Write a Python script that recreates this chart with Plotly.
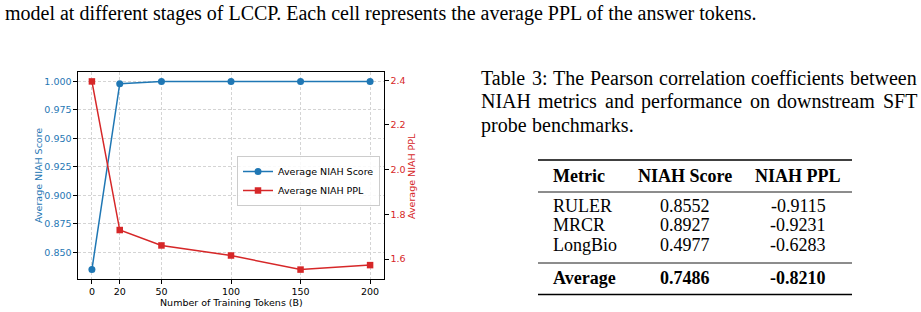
import plotly.graph_objects as go

W, H = 921, 312

# ---------------- data ----------------
tokens = [0, 20, 50, 100, 150, 200]
niah_score = [0.835, 0.998, 1.000, 1.000, 1.000, 1.000]
niah_ppl = [2.395, 1.730, 1.661, 1.616, 1.553, 1.573]

score_ticks = [0.850, 0.875, 0.900, 0.925, 0.950, 0.975, 1.000]
ppl_ticks = [1.6, 1.8, 2.0, 2.2, 2.4]

top_text = ("model at different stages of LCCP. Each cell represents the "
            "average PPL of the answer tokens.")
caption_lines = [
    "Table 3: The Pearson correlation coefficients between",
    "NIAH metrics and performance on downstream SFT",
    "probe benchmarks.",
]

table_header = ["Metric", "NIAH Score", "NIAH PPL"]
table_metrics = ["RULER", "MRCR", "LongBio"]
table_score = ["0.8552", "0.8927", "0.4977"]
table_ppl = ["-0.9115", "-0.9231", "-0.6283"]
avg_row = ["Average", "0.7486", "-0.8210"]

# ---------------- helpers ----------------
def px(x):
    return x / W


def py(y):
    return 1 - y / H


BLUE = "#1f77b4"
RED = "#d62728"
SANS = "DejaVu Sans"
SERIF = "Liberation Serif"

TIMES_W = {' ': 250, '.': 250, ':': 278, ',': 250, '-': 333}
TIMES_W.update({c: 500 for c in "0123456789"})
TIMES_W.update(dict(zip("abcdefghijklmnopqrstuvwxyz",
                        [444, 500, 444, 500, 444, 333, 500, 500, 278, 278, 500, 278, 778,
                         500, 500, 500, 500, 333, 389, 278, 500, 500, 722, 500, 500, 444])))
TIMES_W.update(dict(zip("ABCDEFGHIJKLMNOPQRSTUVWXYZ",
                        [722, 667, 667, 722, 611, 556, 722, 722, 333, 389, 722, 611, 889,
                         722, 722, 556, 722, 667, 556, 611, 722, 722, 944, 722, 722, 611])))


def text_width(s, size):
    return sum(TIMES_W.get(c, 500) for c in s) / 1000.0 * size


def rng(vals):
    lo, hi = min(vals), max(vals)
    pad = 0.05 * (hi - lo)
    return [lo - pad, hi + pad]


# ---------------- figure ----------------
fig = go.Figure()
fig.add_trace(go.Scatter(
    x=tokens, y=niah_score, mode="lines+markers", name="Average NIAH Score",
    line=dict(color=BLUE, width=1.5), marker=dict(symbol="circle", size=7, color=BLUE),
    yaxis="y", cliponaxis=False))
fig.add_trace(go.Scatter(
    x=tokens, y=niah_ppl, mode="lines+markers", name="Average NIAH PPL",
    line=dict(color=RED, width=1.5), marker=dict(symbol="square", size=6.5, color=RED),
    yaxis="y2", cliponaxis=False))

grid = dict(showgrid=True, gridcolor="#d4d4d4", gridwidth=0.8, griddash="3px,2px")
common = dict(ticks="outside", ticklen=3.5, tickwidth=1, tickcolor="black",
              showline=True, linecolor="black", linewidth=1.1, zeroline=False)

fig.update_layout(
    width=W, height=H, margin=dict(l=0, r=0, t=0, b=0),
    paper_bgcolor="white", plot_bgcolor="white",
    showlegend=True,
    xaxis=dict(domain=[px(78), px(384)], range=rng(tokens), tickvals=tokens,
               mirror=True, tickfont=dict(family=SANS, size=9.5, color="black"),
               **grid, **common),
    yaxis=dict(domain=[py(279), py(72)], range=rng(niah_score), tickvals=score_ticks,
               tickformat=".3f", mirror=True,
               tickfont=dict(family=SANS, size=9.5, color=BLUE), **grid, **common),
    yaxis2=dict(overlaying="y", side="right", range=rng(niah_ppl), tickvals=ppl_ticks,
                tickformat=".1f", showgrid=False,
                tickfont=dict(family=SANS, size=9.5, color=RED), **common),
    legend=dict(x=px(380), xanchor="right", y=py(156), yanchor="top",
                bgcolor="rgba(255,255,255,0.85)", bordercolor="#cccccc", borderwidth=1,
                font=dict(family=SANS, size=9.5, color="black"), itemwidth=30,
                tracegroupgap=0),
)

ann = []
# axis titles
ann.append(dict(text="Average NIAH Score", x=px(38), y=py(176), textangle=-90,
                xanchor="center", font=dict(family=SANS, size=9.5, color=BLUE)))
ann.append(dict(text="Average NIAH PPL", x=px(411), y=py(176), textangle=-90,
                xanchor="center", font=dict(family=SANS, size=9.5, color=RED)))
ann.append(dict(text="Number of Training Tokens (B)", x=px(231), y=py(302.5),
                xanchor="center", font=dict(family=SANS, size=9.5, color="black")))

# top body text
ann.append(dict(text=top_text, x=px(4), y=py(14), xanchor="left",
                font=dict(family=SERIF, size=20, color="black")))

# caption (justified)
CAP_L, CAP_R, CAP_SIZE = 480, 916, 20
cap_y = [78, 101.5, 125]
for i, line in enumerate(caption_lines):
    words = line.split(" ")
    widths = [text_width(w, CAP_SIZE) for w in words]
    if i < len(caption_lines) - 1 and len(words) > 1:
        gap = (CAP_R - CAP_L - sum(widths)) / (len(words) - 1)
    else:
        gap = text_width(" ", CAP_SIZE)
    x = CAP_L
    for w, wd in zip(words, widths):
        ann.append(dict(text=w, x=px(x), y=py(cap_y[i]), xanchor="left",
                        font=dict(family=SERIF, size=CAP_SIZE, color="black")))
        x += wd + gap

# table
T_SIZE = 18
col_metric_x, col_score_x, col_ppl_x = 552, 685, 798


def row(cells, y, bold=False):
    f = dict(family=SERIF, size=T_SIZE, color="black")
    t = [("<b>%s</b>" % c) if bold else c for c in cells]
    ann.append(dict(text=t[0], x=px(col_metric_x), y=py(y), xanchor="left", font=f))
    ann.append(dict(text=t[1], x=px(col_score_x), y=py(y), xanchor="center", font=f))
    ann.append(dict(text=t[2], x=px(col_ppl_x), y=py(y), xanchor="center", font=f))


row(table_header, 176, bold=True)
for k, yy in enumerate([205.5, 225.2, 244.9]):
    row([table_metrics[k], table_score[k], table_ppl[k]], yy)
row(avg_row, 278, bold=True)

for a in ann:
    a.setdefault("xref", "paper")
    a.setdefault("yref", "paper")
    a.setdefault("showarrow", False)
    a.setdefault("yanchor", "middle")
    a.setdefault("borderpad", 0)
fig.update_layout(annotations=ann)

shapes = []
for yy, lw in [(160, 1.6), (192, 0.9), (263, 0.9), (294.5, 1.6)]:
    shapes.append(dict(type="line", xref="paper", yref="paper",
                       x0=px(538), x1=px(852), y0=py(yy), y1=py(yy),
                       line=dict(color="black", width=lw)))
fig.update_layout(shapes=shapes)

fig.write_html("out.html")
